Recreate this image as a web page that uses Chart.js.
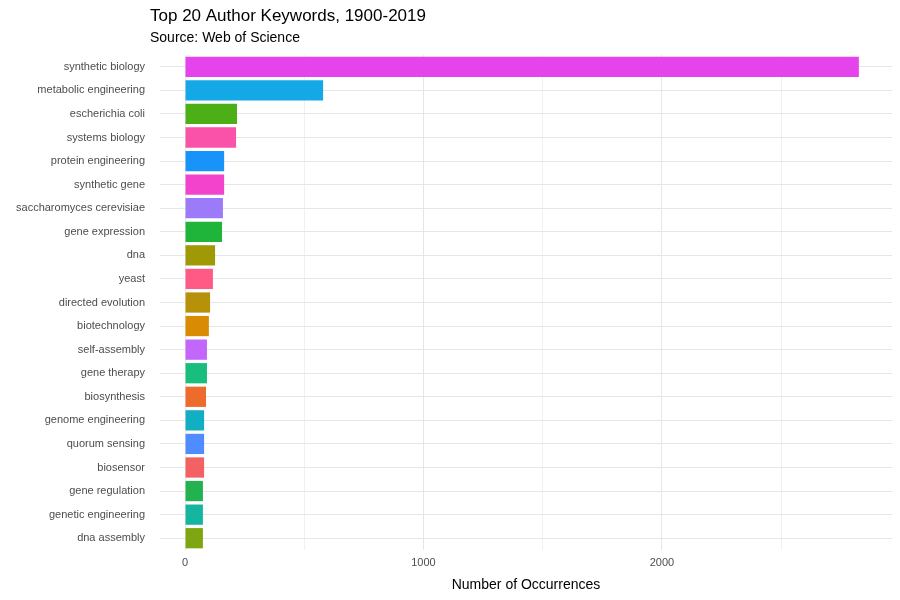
<!DOCTYPE html>
<html><head><script src="https://cdn.jsdelivr.net/npm/chart.js"></script>
<style>body{margin:0;background:#fff}#w{width:900px;height:600px}</style></head>
<body><div id="w"><canvas id="c"></canvas></div>
<script>
const categories=["synthetic biology","metabolic engineering","escherichia coli","systems biology","protein engineering","synthetic gene","saccharomyces cerevisiae","gene expression","dna","yeast","directed evolution","biotechnology","self-assembly","gene therapy","biosynthesis","genome engineering","quorum sensing","biosensor","gene regulation","genetic engineering","dna assembly"];
const values=[2826,579,218,214,164,164,159,155,126,117,105,100,92,92,88,80,80,80,75,75,75];
const colors=["#E544EC","#14A9E6","#4DAF16","#F952A8","#1893FA","#F343CC","#9B7BFA","#1EB53A","#9E9904","#FF5A86","#B8910A","#D98B04","#C266FC","#19BE7E","#EC6B2D","#12AEC3","#4F8CFF","#F36163","#22B350","#15B5A0","#7EA611"];
const tickLabels={0:"0",1000:"1000",2000:"2000"};
const titlePlugin={id:'tt',afterDraw(ch){const x=ch.ctx;x.save();x.fillStyle='#000';x.textBaseline='alphabetic';
x.font='17px "Liberation Sans", Arial';x.fillText("Top 20 Author Keywords, 1900-2019",150,21);
x.font='14px "Liberation Sans", Arial';x.fillText("Source: Web of Science",150,42);x.restore();}};
new Chart(document.getElementById('c'),{type:'bar',
data:{labels:categories,datasets:[{data:values,backgroundColor:colors,barPercentage:0.86,categoryPercentage:1}]},
plugins:[titlePlugin],
options:{indexAxis:'y',responsive:true,maintainAspectRatio:false,animation:false,
layout:{padding:{left:0,right:8,top:55,bottom:6}},
plugins:{legend:{display:false},tooltip:{enabled:false}},
scales:{x:{min:-105,max:2965,afterBuildTicks:a=>{a.ticks=[0,500,1000,1500,2000,2500].map(v=>({value:v}));},
ticks:{callback:v=>tickLabels[v]||"",color:'#4d4d4d',font:{family:'Liberation Sans, Arial',size:11},maxRotation:0,padding:6},
grid:{color:c=>(c.tick&&c.tick.value%1000===0)?'#e6e6e6':'#f0f0f0',drawTicks:false},border:{display:false},
title:{display:true,text:"Number of Occurrences",color:'#000',font:{family:'Liberation Sans, Arial',size:14},padding:{top:2,bottom:0}}},
y:{afterFit:s=>{s.width=160;},ticks:{color:'#4d4d4d',font:{family:'Liberation Sans, Arial',size:11},padding:15},grid:{color:'#e6e6e6',drawTicks:false,offset:false},border:{display:false}}}}});
</script></body></html>
